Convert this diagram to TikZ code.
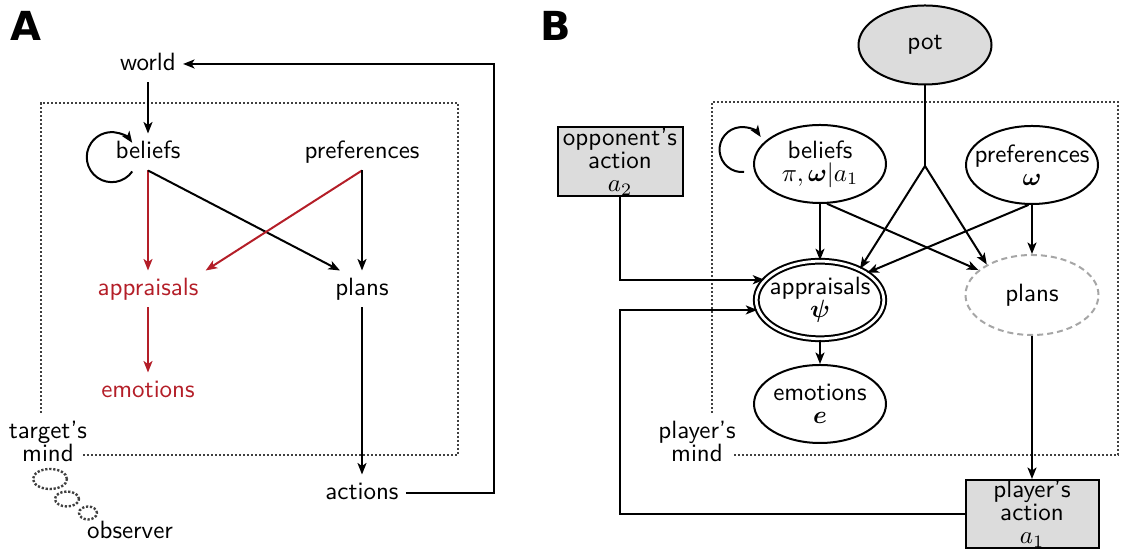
\documentclass[tikz,border=0pt]{standalone}
\usepackage{xcolor}
\usepackage{amsmath}
\usepackage{fontspec}
\usepackage{tikz}
\usetikzlibrary{shapes.geometric,arrows.meta}

\newfontfamily\panelfont{DejaVu Sans}
\definecolor{apred}{RGB}{180,30,40}
\definecolor{boxgray}{RGB}{220,220,220}

\begin{document}
\begin{tikzpicture}[x=0.4pt,y=0.4pt,line width=0.8pt,
  font=\sffamily\fontsize{10}{9.2}\selectfont,
  arr/.style={-{Stealth[length=4.6pt,width=3.6pt,inset=1.2pt]}},
  lbl/.style={inner sep=2.5pt,text height=7pt,text depth=2pt},
  mind/.style={draw=black!75,dash pattern=on 0.9pt off 0.7pt,line width=0.95pt},
  bub/.style={mind,ellipse,inner sep=0pt},
  ell/.style={draw,ellipse,inner sep=-8pt,minimum width=52.8pt,minimum height=31.2pt,align=center},
  act/.style={draw,fill=boxgray,rectangle,inner sep=0pt,minimum width=50pt,minimum height=27.6pt,align=center},
  panel/.style={font=\panelfont\bfseries\fontsize{16}{16}\selectfont}]

  \useasboundingbox (0,0) rectangle (1127,-550);

  \node[panel] (labA) at (26,-26) {A};
  \node[lbl] (world) at (148,-64) {world};
  \node[lbl] (belA) at (148,-152) {beliefs};
  \node[lbl] (prefA) at (362,-152) {preferences};
  \node[lbl,text=apred] (apprA) at (148,-289) {appraisals};
  \node[lbl,text=apred] (emoA) at (148,-391) {emotions};
  \node[lbl] (plansA) at (362,-289) {plans};
  \node[lbl] (actA) at (362,-493) {actions};
  \node[align=center] (tmind) at (48,-441) {target's\\mind};
  \node[bub,minimum width=13.6pt,minimum height=8pt] (bub1) at (50,-479) {};
  \node[bub,minimum width=9.6pt,minimum height=6pt] (bub2) at (67,-499) {};
  \node[bub,minimum width=7.2pt,minimum height=5.2pt] (bub3) at (88,-513) {};
  \node[lbl] (obs) at (130,-532) {observer};

  \draw[mind] (41,-413) -- (41,-103) -- (458,-103) -- (458,-455) -- (83,-455);

  \draw[arr] (world) -- (belA);
  \draw[arr] ([shift={(24,-1)}]belA.south west) arc[start angle=-35,end angle=-325,radius=10pt];
  \draw[arr,apred] (belA) -- (apprA);
  \draw[arr] (belA.south) -- (plansA.140);
  \draw[arr,apred] (prefA.south) -- (apprA.north east);
  \draw[arr] (prefA) -- (plansA);
  \draw[arr,apred] (apprA) -- (emoA);
  \draw[arr] (plansA) -- (actA);
  \draw[arr] (actA.east) -- ++(88,0) |- (world.east);

  \node[panel] (labB) at (556,-26) {B};
  \node[ell,fill=boxgray,minimum width=53.2pt,minimum height=31.6pt] (pot) at (925,-45) {pot};
  \node[ell] (bel) at (820,-164) {beliefs\\$\pi,\boldsymbol{\omega}|a_1$};
  \node[ell] (pref) at (1032,-165) {preferences\\$\boldsymbol{\omega}$};
  \node[ell,double,double distance=1.1pt,minimum width=51pt,minimum height=31pt] (app) at (820,-300) {appraisals\\$\boldsymbol{\psi}$};
  \node[ell,draw=black!35,dash pattern=on 2.4pt off 1.6pt,minimum width=53.2pt,minimum height=32pt] (pln) at (1032,-295) {plans};
  \node[ell] (emo) at (820,-404) {emotions\\$\boldsymbol{e}$};
  \node[act] (opp) at (620,-161.5) {opponent's\\action\\$a_2$};
  \node[act,minimum width=53.2pt,minimum height=27.2pt] (act1) at (1032,-514) {player's\\action\\$a_1$};
  \node[align=center] (pmind) at (697,-441) {player's\\mind};
  \coordinate (potjoin) at (925,-166);

  \draw[mind] (712,-413) -- (712,-102) -- (1118,-102) -- (1118,-455) -- (733,-455);

  \draw (pot) -- (potjoin);
  \draw[arr] (potjoin) -- (app.38);
  \draw[arr] (potjoin) -- (pln.146);
  \draw[arr] ([shift={(-9,-8)}]bel.west) arc[start angle=-85,end angle=-326,radius=9pt];
  \draw[arr] (bel) -- (app);
  \draw[arr] (bel.-80) -- (pln.155);
  \draw[arr] (pref.-95) -- (app.30);
  \draw[arr] (pref) -- (pln);
  \draw[arr] (app) -- (emo);
  \draw[arr] (pln) -- (act1);
  \draw[arr] (opp.south) |- (app.160);
  \draw[arr] (act1.west) -| (opp.south |- app.189) -- (app.189);
\end{tikzpicture}
\end{document}
